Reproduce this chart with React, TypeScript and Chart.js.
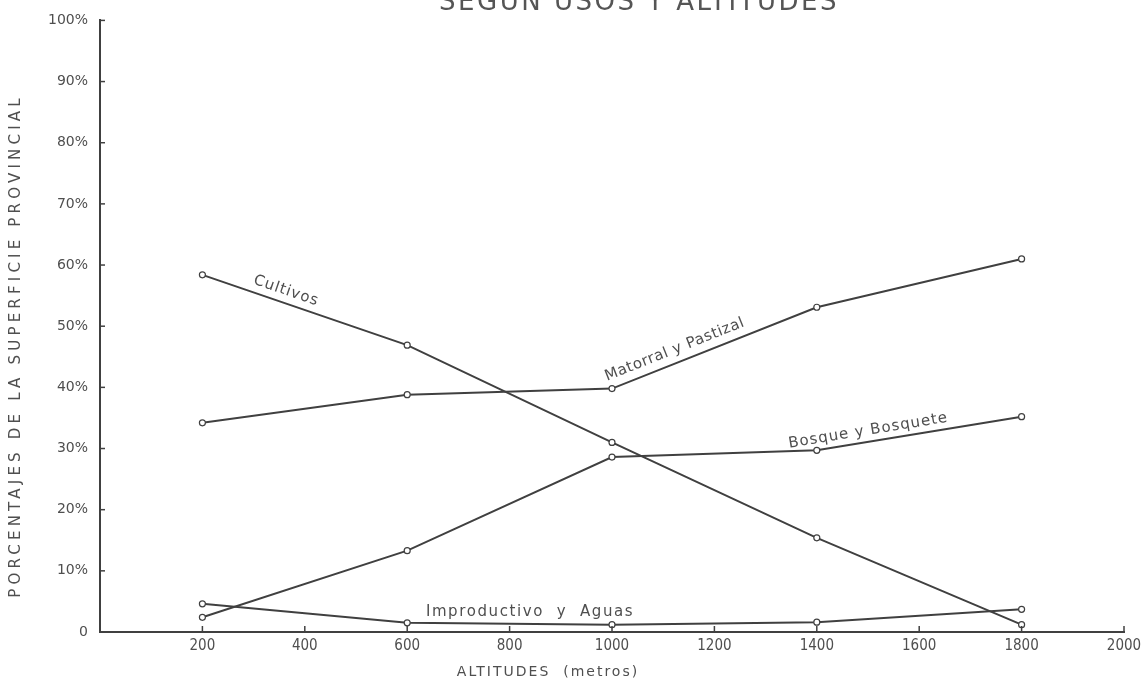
import React, { useEffect, useRef } from "react";
import { Chart, registerables } from "chart.js";

Chart.register(...registerables);

const altitudes = [200, 600, 1000, 1400, 1800];
const cultivos = [58.4, 46.9, 31.0, 15.4, 1.2];
const matorral = [34.2, 38.8, 39.8, 53.1, 61.0];
const bosque = [2.4, 13.3, 28.6, 29.7, 35.2];
const improductivo = [4.6, 1.5, 1.2, 1.6, 3.7];
const xTicks = [200, 400, 600, 800, 1000, 1200, 1400, 1600, 1800, 2000];
const yTicks = [0, 10, 20, 30, 40, 50, 60, 70, 80, 90, 100];

const title = "SEGUN USOS Y ALTITUDES";
const xTitle = "ALTITUDES  (metros)";
const yTitle = "PORCENTAJES DE LA SUPERFICIE PROVINCIAL";

const LINE = "#404040";
const TEXT = "#4f4f4f";
const FONT = "'DejaVu Sans', sans-serif";
const COND = "'DejaVu Sans Condensed', 'DejaVu Sans', sans-serif";

function series(vals: number[]) {
  return {
    data: altitudes.map((a, i) => ({ x: a, y: vals[i] })),
    borderColor: LINE,
    borderWidth: 2,
    pointRadius: 3,
    pointBorderWidth: 1.2,
    pointBackgroundColor: "#ffffff",
    pointBorderColor: LINE,
    tension: 0,
  };
}

const annotate = {
  id: "annotate",
  afterDraw(chart: any) {
    const ctx = chart.ctx as CanvasRenderingContext2D;
    const xs = chart.scales.x;
    const ys = chart.scales.y;
    const area = chart.chartArea;
    ctx.save();
    ctx.strokeStyle = LINE;
    ctx.lineWidth = 1.5;
    xTicks.forEach((v) => {
      const px = xs.getPixelForValue(v);
      ctx.beginPath();
      ctx.moveTo(px, area.bottom);
      ctx.lineTo(px, area.bottom - 6);
      ctx.stroke();
    });
    yTicks.slice(1).forEach((v) => {
      const py = ys.getPixelForValue(v);
      ctx.beginPath();
      ctx.moveTo(area.left, py);
      ctx.lineTo(area.left + 5, py);
      ctx.stroke();
    });

    ctx.fillStyle = TEXT;
    const along = (text: string, vals: number[], i: number, t: number, off: number, size: number, sp: string) => {
      const x0 = xs.getPixelForValue(altitudes[i]);
      const y0 = ys.getPixelForValue(vals[i]);
      const x1 = xs.getPixelForValue(altitudes[i + 1]);
      const y1 = ys.getPixelForValue(vals[i + 1]);
      const ang = Math.atan2(y1 - y0, x1 - x0);
      const cx = x0 + (x1 - x0) * t;
      const cy = y0 + (y1 - y0) * t;
      ctx.save();
      ctx.translate(cx, cy);
      ctx.rotate(ang);
      ctx.font = `${size}px ${FONT}`;
      (ctx as any).letterSpacing = sp;
      ctx.textAlign = "center";
      ctx.textBaseline = "middle";
      ctx.fillText(text, 0, off);
      ctx.restore();
    };
    along("Cultivos", cultivos, 0, 0.39, -12, 15, "1px");
    along("Matorral y Pastizal", matorral, 2, 0.33, -13, 15, "0.6px");
    along("Bosque y Bosquete", bosque, 3, 0.26, -11, 15, "1px");

    ctx.save();
    ctx.font = `15px ${FONT}`;
    (ctx as any).letterSpacing = "1.6px";
    ctx.textAlign = "center";
    ctx.textBaseline = "middle";
    ctx.fillText("Improductivo  y  Aguas", xs.getPixelForValue(840), ys.getPixelForValue(1.3) - 12);
    ctx.restore();

    // main title (cut off at top)
    ctx.save();
    ctx.font = `26px ${FONT}`;
    (ctx as any).letterSpacing = "2.5px";
    ctx.textAlign = "center";
    ctx.textBaseline = "alphabetic";
    ctx.fillStyle = "#555555";
    ctx.fillText(title, 639, 10);
    ctx.restore();

    // x title
    ctx.save();
    ctx.font = `14px ${FONT}`;
    (ctx as any).letterSpacing = "2px";
    ctx.textAlign = "center";
    ctx.textBaseline = "middle";
    ctx.fillText(xTitle, 548, 672);
    ctx.restore();

    // y title
    ctx.save();
    ctx.translate(16, 346);
    ctx.rotate(-Math.PI / 2);
    ctx.font = `15px ${FONT}`;
    (ctx as any).letterSpacing = "4.2px";
    ctx.textAlign = "center";
    ctx.textBaseline = "middle";
    ctx.fillText(yTitle, 0, 0);
    ctx.restore();

    ctx.restore();
  },
};

export default function App() {
  const ref = useRef<HTMLCanvasElement | null>(null);
  useEffect(() => {
    if (!ref.current) return;
    const chart = new Chart(ref.current, {
      type: "line",
      data: {
        datasets: [series(cultivos), series(matorral), series(bosque), series(improductivo)],
      },
      options: {
        animation: false,
        responsive: false,
        layout: { padding: { top: 5, right: 23, left: 0, bottom: 0 } },
        plugins: { legend: { display: false }, tooltip: { enabled: false } },
        scales: {
          x: {
            type: "linear",
            min: 0,
            max: 2000,
            afterBuildTicks: (scale: any) => {
              scale.ticks = xTicks.map((v) => ({ value: v }));
            },
            afterFit: (scale: any) => {
              scale.height = 62;
            },
            grid: { display: false, drawTicks: false },
            border: { display: true, color: LINE, width: 2 },
            ticks: {
              padding: 5,
              color: TEXT,
              font: { family: COND, size: 15 },
              maxRotation: 0,
              autoSkip: false,
              callback: (v: any) => String(v),
            },
          },
          y: {
            type: "linear",
            min: 0,
            max: 100,
            afterBuildTicks: (scale: any) => {
              scale.ticks = yTicks.map((v) => ({ value: v }));
            },
            afterFit: (scale: any) => {
              scale.width = 100;
            },
            grid: { display: false, drawTicks: false },
            border: { display: true, color: LINE, width: 2 },
            ticks: {
              padding: 12,
              color: TEXT,
              font: { family: FONT, size: 14 },
              callback: (v: any) => (v === 0 ? "0" : `${v}%`),
            },
          },
        },
      },
      plugins: [annotate],
    } as any);
    return () => chart.destroy();
  }, []);
  return (
    <div style={{ position: "fixed", left: 0, top: 0, width: 1147, height: 694, background: "#ffffff" }}>
      <canvas ref={ref} width={1147} height={694} style={{ display: "block", width: 1147, height: 694 }} />
    </div>
  );
}
